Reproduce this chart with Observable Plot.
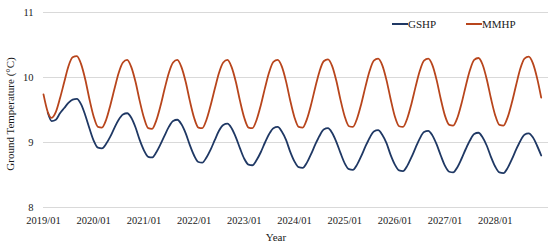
<!DOCTYPE html>
<html><head><meta charset="utf-8">
<script src="https://cdn.jsdelivr.net/npm/d3@7"></script>
<script src="https://cdn.jsdelivr.net/npm/@observablehq/plot@0.6"></script>
<style>
body{margin:0;background:#fff;}
#wrap{position:relative;width:550px;height:246px;font-family:'Liberation Serif','Times New Roman',serif;color:#1a1a1a;}
#wrap svg text{font-family:'Liberation Serif','Times New Roman',serif;}
.lg{position:absolute;top:17px;height:14px;font-size:11px;line-height:14px;display:flex;align-items:center;white-space:nowrap;}
.lg .sw{display:inline-block;width:16px;height:2px;margin-right:0px;}
.ttl{position:absolute;font-size:11px;white-space:nowrap;line-height:1;transform:translate(-50%,-50%);}
</style></head><body><div id="wrap"></div>
<script>
const seriesNames = ["GSHP", "MMHP"];
const seriesColors = ["#1f3864", "#b8451c"];
const yTicks = [8, 9, 10, 11];
const xTickLabels = ["2019/01","2020/01","2021/01","2022/01","2023/01","2024/01","2025/01","2026/01","2027/01","2028/01"];
const firstMonth = "2019-01";
const monthCount = 120;

// monthly ground temperature, 2019/01 .. 2028/12
const gshp = [
  null, 9.46, 9.33, 9.35, 9.45, 9.53, 9.61, 9.66, 9.67, 9.59, 9.42, 9.22,
  9.03, 8.92, 8.91, 8.98, 9.09, 9.23, 9.35, 9.43, 9.45, 9.38, 9.23, 9.04,
  8.88, 8.78, 8.77, 8.85, 8.97, 9.11, 9.24, 9.33, 9.35, 9.28, 9.14, 8.96,
  8.80, 8.70, 8.69, 8.77, 8.89, 9.04, 9.18, 9.27, 9.29, 9.22, 9.08, 8.91,
  8.75, 8.66, 8.65, 8.73, 8.85, 9.00, 9.13, 9.22, 9.24, 9.17, 9.04, 8.86,
  8.71, 8.62, 8.61, 8.69, 8.82, 8.97, 9.10, 9.20, 9.22, 9.15, 9.01, 8.84,
  8.68, 8.59, 8.58, 8.66, 8.79, 8.94, 9.07, 9.17, 9.19, 9.12, 8.99, 8.81,
  8.66, 8.57, 8.56, 8.64, 8.77, 8.92, 9.06, 9.16, 9.18, 9.11, 8.97, 8.80,
  8.64, 8.55, 8.54, 8.62, 8.75, 8.90, 9.03, 9.13, 9.15, 9.08, 8.95, 8.78,
  8.63, 8.54, 8.53, 8.61, 8.74, 8.89, 9.02, 9.12, 9.14, 9.08, 8.95, 8.80
];
const mmhp = [
  9.74, 9.47, 9.38, 9.47, 9.68, 9.93, 10.17, 10.31, 10.33, 10.21, 9.97, 9.67,
  9.40, 9.24, 9.23, 9.35, 9.57, 9.83, 10.07, 10.23, 10.27, 10.16, 9.93, 9.64,
  9.38, 9.22, 9.21, 9.34, 9.56, 9.83, 10.07, 10.23, 10.27, 10.16, 9.93, 9.64,
  9.38, 9.23, 9.22, 9.35, 9.57, 9.83, 10.07, 10.23, 10.27, 10.16, 9.93, 9.64,
  9.38, 9.23, 9.22, 9.35, 9.57, 9.84, 10.08, 10.24, 10.27, 10.17, 9.94, 9.65,
  9.39, 9.24, 9.23, 9.36, 9.58, 9.85, 10.09, 10.25, 10.28, 10.18, 9.95, 9.66,
  9.40, 9.25, 9.24, 9.37, 9.59, 9.86, 10.10, 10.26, 10.29, 10.19, 9.96, 9.67,
  9.40, 9.25, 9.24, 9.37, 9.59, 9.86, 10.10, 10.26, 10.29, 10.19, 9.96, 9.67,
  9.41, 9.27, 9.26, 9.38, 9.60, 9.87, 10.11, 10.27, 10.30, 10.20, 9.97, 9.68,
  9.42, 9.27, 9.26, 9.39, 9.61, 9.88, 10.13, 10.29, 10.32, 10.22, 9.99, 9.69
];

const parseMonth = d3.utcParse("%Y-%m");
const parseTick = d3.utcParse("%Y/%m");
const start = parseMonth(firstMonth);
const months = d3.utcMonth.range(start, d3.utcMonth.offset(start, monthCount));
const rows = months.map((date, i) => ({date, gshp: gshp[i], mmhp: mmhp[i]}));
const xTickDates = xTickLabels.map(parseTick);
const xEnd = d3.utcDay.offset(d3.utcMonth.offset(start, 120), 22);

const font = "'Liberation Serif','Times New Roman',serif";
const chart = Plot.plot({
  width: 550, height: 246,
  marginLeft: 43, marginRight: 2, marginTop: 12, marginBottom: 39,
  style: {fontFamily: font, fontSize: "10.5px", color: "#1a1a1a", background: "#fff", overflow: "visible"},
  x: {type: "utc", domain: [start, xEnd]},
  y: {domain: [8, 11]},
  marks: [
    Plot.ruleY(yTicks, {stroke: "#d9d9d9", strokeWidth: 1}),
    Plot.axisY(yTicks, {tickSize: 0, tickPadding: 10, tickFormat: d3.format("d"), label: null}),
    Plot.axisX(xTickDates, {tickSize: 0, tickPadding: 9, tickFormat: d3.utcFormat("%Y/%m"), label: null}),
    Plot.lineY(rows, {x: "date", y: "gshp", stroke: seriesColors[0], strokeWidth: 1.8, curve: "monotone-x"}),
    Plot.lineY(rows, {x: "date", y: "mmhp", stroke: seriesColors[1], strokeWidth: 1.8, curve: "monotone-x"})
  ]
});
const wrap = document.getElementById("wrap");
wrap.appendChild(chart);
chart.style.position = "absolute"; chart.style.left = "0"; chart.style.top = "0";

const legendLefts = [392, 466];
seriesNames.forEach((n, i) => {
  const d = document.createElement("div");
  d.className = "lg";
  d.style.left = legendLefts[i] + "px";
  d.innerHTML = `<span class="sw" style="background:${seriesColors[i]}"></span><span>${n}</span>`;
  wrap.appendChild(d);
});
const yl = document.createElement("div");
yl.className = "ttl";
yl.textContent = "Ground Temperature (°C)";
yl.style.left = "10px"; yl.style.top = "114px";
yl.style.transform = "translate(-50%,-50%) rotate(-90deg)";
wrap.appendChild(yl);
const xl = document.createElement("div");
xl.className = "ttl";
xl.textContent = "Year";
xl.style.left = "276px"; xl.style.top = "237px";
wrap.appendChild(xl);
</script></body></html>
